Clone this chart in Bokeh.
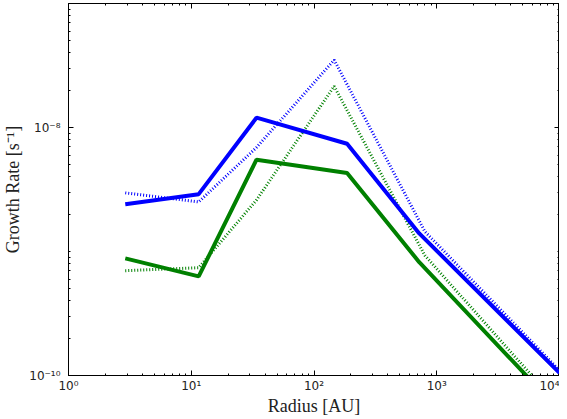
from bokeh.plotting import figure
from bokeh.models import FixedTicker, CustomJSTickFormatter, LogAxis, Range1d
from bokeh.embed import file_html
from bokeh.resources import INLINE

# ---- data ----
radius_solid = [2.9, 11.5, 34, 186, 720, 10000]
blue_solid = [2.4e-9, 2.9e-9, 1.2e-8, 7.4e-9, 1.4e-9, 1.05e-10]
green_solid = [8.8e-10, 6.3e-10, 5.5e-9, 4.3e-9, 8.2e-10, 5.2e-11]

radius_dotted = [2.9, 11.5, 34, 146, 800, 10000]
blue_dotted = [2.97e-9, 2.51e-9, 6.9e-9, 3.5e-8, 1.45e-9, 1.1e-10]
green_dotted = [7.0e-10, 7.4e-10, 2.6e-9, 2.15e-8, 9.3e-10, 5.6e-11]

x_major = [1, 10, 100, 1000, 10000]
y_major = [1e-10, 1e-8]
y_decades = [1e-10, 1e-9, 1e-8, 1e-7]
exp_labels = {"-10": "10\u207b\u00b9\u2070", "-8": "10\u207b\u2078",
              "0": "10\u2070", "1": "10\u00b9", "2": "10\u00b2",
              "3": "10\u00b3", "4": "10\u2074"}

x_minor = [m * d for d in x_major[:-1] for m in range(2, 10)]
y_minor = [m * d for d in y_decades[:-1] for m in range(1, 10) if not (m == 1 and d in y_major)]

p = figure(width=559, height=418, x_axis_type="log", y_axis_type="log",
           x_range=Range1d(1, 10000), y_range=Range1d(1e-10, 1e-7),
           output_backend="svg", toolbar_location=None,
           min_border_left=62, min_border_right=0, min_border_top=3, min_border_bottom=0)
p.grid.visible = False
p.outline_line_color = "black"
p.outline_line_width = 1
p.background_fill_color = "white"
p.border_fill_color = "white"

fmt = CustomJSTickFormatter(args=dict(labels=exp_labels), code="""
const e = Math.round(Math.log10(tick));
const k = String(e);
return (k in labels) ? labels[k] : "";
""")
blank = CustomJSTickFormatter(code="return '';")

def style(ax):
    ax.major_tick_in = 5
    ax.major_tick_out = 0
    ax.minor_tick_in = 2
    ax.minor_tick_out = 0
    ax.axis_line_color = "black"
    ax.major_tick_line_color = "black"
    ax.minor_tick_line_color = "black"
    ax.major_label_text_font = "DejaVu Sans"
    ax.major_label_text_font_size = "12px"
    ax.major_label_text_color = "#222222"
    ax.axis_label_text_font = "Liberation Serif"
    ax.axis_label_text_font_style = "normal"
    ax.axis_label_text_font_size = "18px"
    ax.axis_label_text_color = "#222222"

p.xaxis.ticker = FixedTicker(ticks=x_major, minor_ticks=x_minor)
p.xaxis.formatter = fmt
p.yaxis.ticker = FixedTicker(ticks=y_major, minor_ticks=y_minor)
p.yaxis.formatter = fmt
p.xaxis.axis_label = "Radius [AU]"
p.yaxis.axis_label = "Growth Rate [s\u207b\u00b9]"
for ax in p.xaxis + p.yaxis:
    style(ax)
p.xaxis.major_label_standoff = 3
p.xaxis.axis_label_standoff = 0
p.yaxis.axis_label_standoff = 3
p.yaxis.major_label_standoff = 8

top = LogAxis(ticker=FixedTicker(ticks=x_major, minor_ticks=x_minor), formatter=blank)
right = LogAxis(ticker=FixedTicker(ticks=y_major, minor_ticks=y_minor), formatter=blank)
for ax in (top, right):
    style(ax)
    ax.major_label_standoff = 0
p.add_layout(top, "above")
p.add_layout(right, "right")

p.line(radius_dotted, blue_dotted, line_color="#0000ff", line_width=3, line_dash="1 2")
p.line(radius_dotted, green_dotted, line_color="#008000", line_width=3, line_dash="1 2")
p.line(radius_solid, blue_solid, line_color="#0000ff", line_width=4)
p.line(radius_solid, green_solid, line_color="#008000", line_width=4)

open("out.html", "w").write(file_html(p, INLINE))
